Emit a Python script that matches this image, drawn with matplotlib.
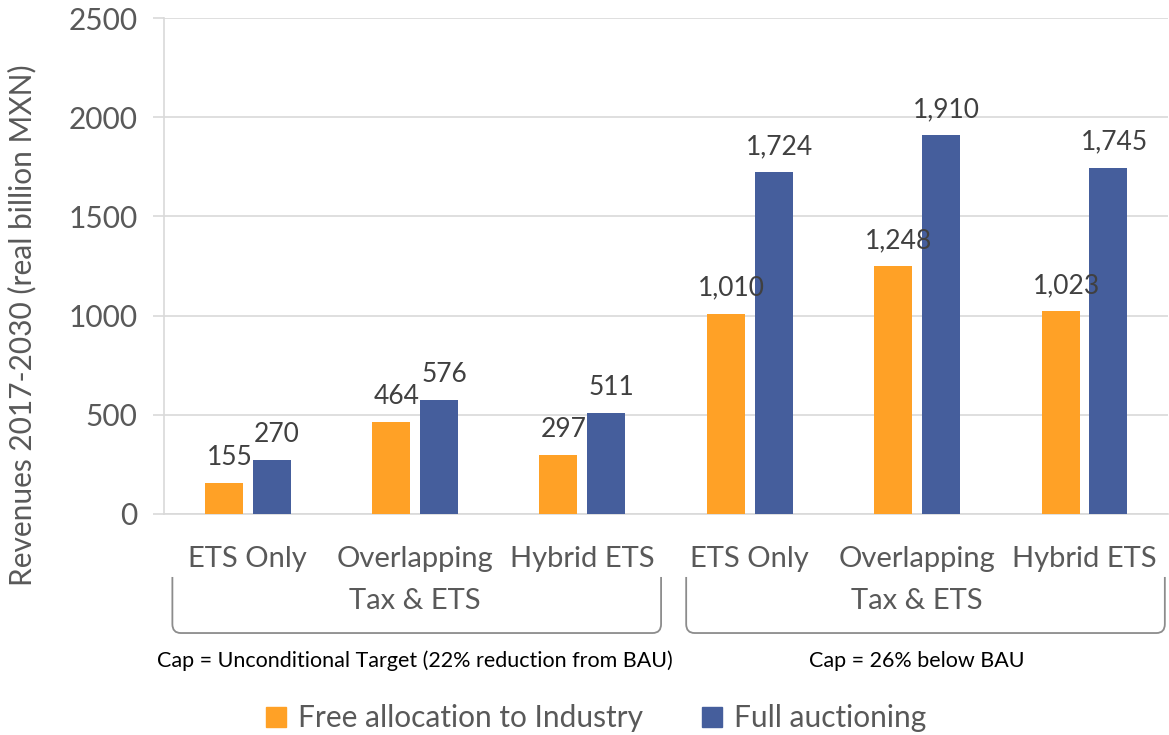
import matplotlib
matplotlib.use('Agg')
import matplotlib.pyplot as plt
import matplotlib.transforms as mtransforms
from matplotlib.path import Path
from matplotlib.patches import PathPatch, Patch
import numpy as np

plt.rcParams['font.family'] = ['Lato', 'DejaVu Sans']

CATEGORIES = ['ETS Only', 'Overlapping\nTax & ETS', 'Hybrid ETS',
              'ETS Only', 'Overlapping\nTax & ETS', 'Hybrid ETS']
GROUPS = ['Cap = Unconditional Target (22% reduction from BAU)', 'Cap = 26% below BAU']
GROUP_SPANS = [(0, 2), (3, 5)]
FREE_ALLOCATION = [155, 464, 297, 1010, 1248, 1023]
FULL_AUCTIONING = [270, 576, 511, 1724, 1910, 1745]
SERIES = ['Free allocation to Industry', 'Full auctioning']
YTICKS = [0, 500, 1000, 1500, 2000, 2500]

ORANGE = '#FFA126'
BLUE = '#455E9C'
GREY_TXT = '#595959'
GRID = '#D9D9D9'

# ----------------------------------------------------------------------------------------------------
def draw_bracket(ax, x0, x1, ytop, ybot, rx=0.05, ry=0.018):

    trans = mtransforms.blended_transform_factory(ax.transData, ax.transAxes)
    verts = [(x0, ytop), (x0, ybot + ry), (x0, ybot), (x0 + rx, ybot),
             (x1 - rx, ybot), (x1, ybot), (x1, ybot + ry), (x1, ytop)]
    codes = [Path.MOVETO, Path.LINETO, Path.CURVE3, Path.CURVE3,
             Path.LINETO, Path.CURVE3, Path.CURVE3, Path.LINETO]
    patch = PathPatch(Path(verts, codes), transform=trans, fill=False,
                      edgecolor='#8C8C8C', lw=1.3, clip_on=False)
    ax.add_patch(patch)

# ----------------------------------------------------------------------------------------------------
def plot_revenues():

    fig = plt.figure(figsize=(11.69, 7.35), dpi=100)
    ax = fig.add_axes([0.1403, 0.3007, 0.859, 0.6748])

    x = np.arange(len(CATEGORIES))
    off, w = 0.143, 0.227
    b1 = ax.bar(x - off, FREE_ALLOCATION, w, color=ORANGE, zorder=3)
    b2 = ax.bar(x + off, FULL_AUCTIONING, w, color=BLUE, zorder=3)

    for bars, vals in [(b1, FREE_ALLOCATION), (b2, FULL_AUCTIONING)]:
        for b, v in zip(bars, vals):
            ax.annotate(f'{v:,}', (b.get_x() + b.get_width() / 2, v),
                        xytext=(4, 13), textcoords='offset points',
                        ha='center', va='baseline', fontsize=19, color='#404040')

    ax.set_xlim(-0.5, 5.5)
    ax.set_ylim(0, 2500)
    ax.set_yticks(YTICKS)
    ax.set_xticks([])
    ax.tick_params(axis='y', direction='out', length=8, width=1.2, color=GRID,
                   labelsize=21.5, labelcolor=GREY_TXT, pad=11)
    ax.grid(axis='y', color=GRID, lw=1.2, zorder=0)
    for s in ['top', 'right']:
        ax.spines[s].set_visible(False)
    for s in ['left', 'bottom']:
        ax.spines[s].set_color(GRID)
        ax.spines[s].set_linewidth(1.2)

    # two-level category axis: wrapped lines placed one by one
    trans = mtransforms.blended_transform_factory(ax.transData, ax.transAxes)
    for xi, lab in zip(x, CATEGORIES):
        for k, line in enumerate(lab.split('\n')):
            ax.text(xi, -0.085 - 0.085 * k, line, transform=trans, ha='center',
                    va='center_baseline', fontsize=21, color=GREY_TXT)

    pads = [(-0.45, 0.47), (-0.38, 0.48)]
    for (a, b), (pl, pr), g in zip(GROUP_SPANS, pads, GROUPS):
        draw_bracket(ax, a + pl, b + pr, -0.127, -0.240)
        ax.text((a + b) / 2, -0.296, g, transform=trans, ha='center', va='center',
                fontsize=15.5, color='black')

    fig.text(0.019, 0.558, 'Revenues 2017-2030 (real billion MXN)', rotation=90,
             ha='center', va='center', fontsize=21.5, color=GREY_TXT)

    handles = [Patch(color=ORANGE), Patch(color=BLUE)]
    fig.legend(handles, SERIES, loc='center', bbox_to_anchor=(0.51, 0.023), ncol=2,
               frameon=False, fontsize=21.5, labelcolor=GREY_TXT, handlelength=0.65,
               handleheight=0.65, handletextpad=0.4, columnspacing=2.0)

    fig.savefig('out.png', dpi=100)

# ----------------------------------------------------------------------------------------------------
if __name__ == '__main__':

    plot_revenues()
